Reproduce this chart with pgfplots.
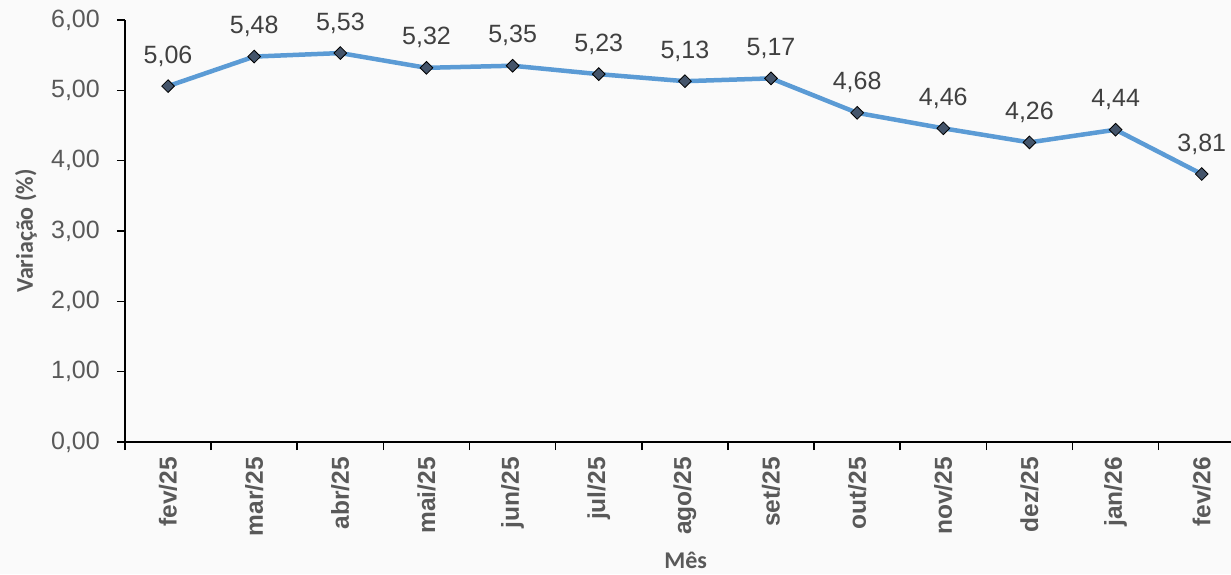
\documentclass[border=0pt]{standalone}
\usepackage{fontspec}
\setmainfont{Liberation Sans}
\newfontfamily\titlefont{Carlito}
\usepackage{pgfplots}
\pgfplotsset{compat=1.18}
\definecolor{bgcol}{HTML}{FAFAFA}
\definecolor{linecol}{HTML}{5B9BD5}
\definecolor{markcol}{HTML}{44546A}
\definecolor{tickcol}{HTML}{595959}
\definecolor{valcol}{HTML}{404040}

\begin{document}
\begin{tikzpicture}
\fill[bgcol] (-125pt,-132pt) rectangle (1106pt,442pt);
\begin{axis}[
    at={(0,0)}, anchor=south west,
    scale only axis,
    width=1106pt, height=422pt,
    xmin=-0.5, xmax=12.34,
    ymin=0, ymax=6,
    axis x line*=bottom,
    axis y line*=left,
    axis line style={line width=1.6pt, black},
    tick align=outside,
    major tick length=8pt,
    minor tick length=8pt,
    tick style={line width=1.6pt, black},
    xtick={0,...,12},
    xticklabels={fev/25,mar/25,abr/25,mai/25,jun/25,jul/25,ago/25,set/25,out/25,nov/25,dez/25,jan/26,fev/26},
    major x tick style={draw=none},
    minor xtick={-0.5,0.5,...,11.5},
    minor x tick style={line width=1.6pt, black},
    ytick={0,1,...,6},
    yticklabel style={
        /pgf/number format/.cd, fixed, fixed zerofill, precision=2, use comma, assume math mode=true,
        /tikz/.cd, font=\fontsize{25}{30}\selectfont, text=tickcol, inner sep=0pt, anchor=east, xshift=-17pt},
    xticklabel style={yshift=-7pt, rotate=90, anchor=east, inner sep=0pt,
        font=\bfseries\fontsize{24.5}{28}\selectfont, text=tickcol},
    ylabel={Variação (\%)},
    ylabel style={at={(axis description cs:-0.0895,0.5)}, anchor=center, rotate=0,
        font=\titlefont\bfseries\fontsize{24}{28}\selectfont, text=tickcol},
    xlabel={Mês},
    xlabel style={at={(axis description cs:0.507,-0.2986)}, anchor=base,
        font=\titlefont\bfseries\fontsize{24}{28}\selectfont, text=tickcol},
    nodes near coords,
    point meta=explicit symbolic,
    every node near coord/.append style={anchor=base, yshift=23pt, inner sep=0pt,
        font=\fontsize{25}{30}\selectfont, text=valcol},
    clip=false,
]
\addplot[linecol, line width=4.5pt, mark=square*,
    mark options={rotate=45, fill=markcol, draw=black, line width=0.8pt, scale=1},
    mark size=4.5pt]
  coordinates {
    (0,5.06) [5,06]
    (1,5.48) [5,48]
    (2,5.53) [5,53]
    (3,5.32) [5,32]
    (4,5.35) [5,35]
    (5,5.23) [5,23]
    (6,5.13) [5,13]
    (7,5.17) [5,17]
    (8,4.68) [4,68]
    (9,4.46) [4,46]
    (10,4.26) [4,26]
    (11,4.44) [4,44]
    (12,3.81) [3,81]
  };
\end{axis}
\pgfresetboundingbox
\useasboundingbox (-125pt,-132pt) rectangle (1106pt,442pt);
\end{tikzpicture}
\end{document}
